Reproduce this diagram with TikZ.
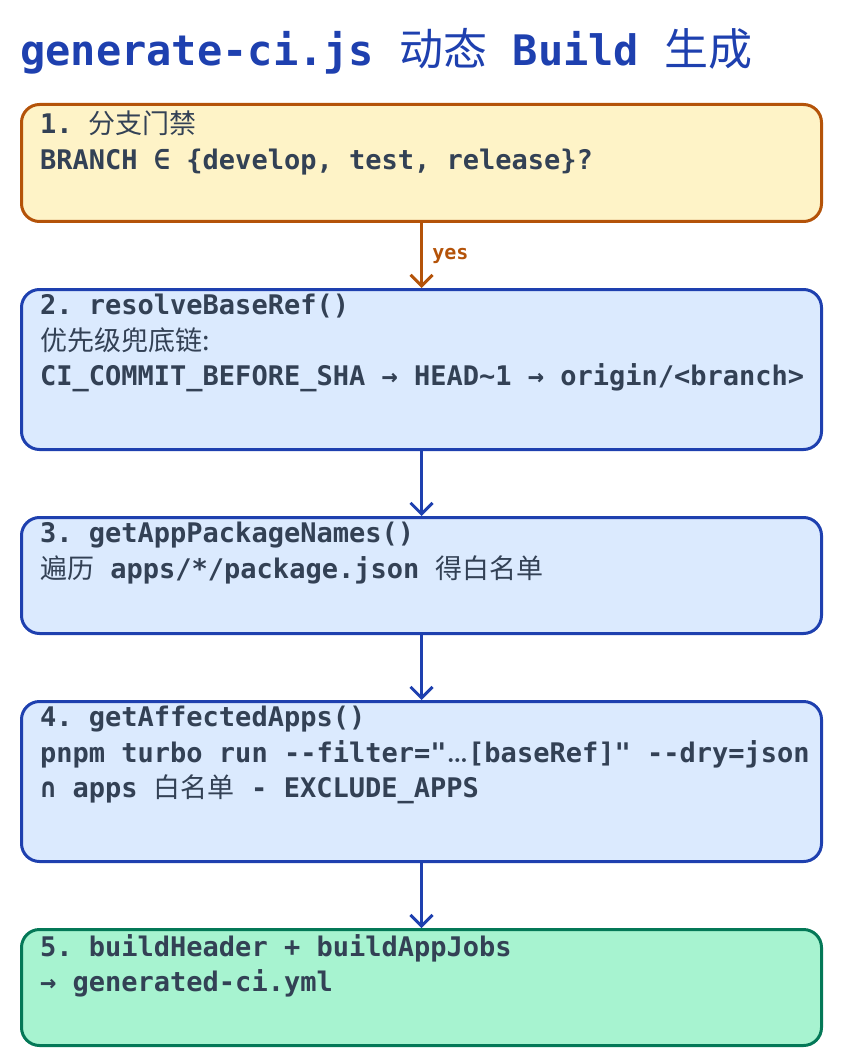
\documentclass[tikz,border=0pt]{standalone}
\usepackage{fontspec}
\setmonofont{DejaVu Sans Mono}
\newfontfamily\cjk{Noto Sans CJK SC}
\usetikzlibrary{arrows.meta,positioning}
\definecolor{titleblue}{HTML}{1E40AF}
\definecolor{textgray}{HTML}{334155}
\definecolor{gatefill}{HTML}{FEF3C7}
\definecolor{gateline}{HTML}{B45309}
\definecolor{stepfill}{HTML}{DBEAFE}
\definecolor{stepline}{HTML}{1E40AF}
\definecolor{donefill}{HTML}{A7F3D0}
\definecolor{doneline}{HTML}{047857}
\tikzset{
  box/.style={draw, line width=3pt, rounded corners=18pt, minimum width=800pt, anchor=north west, inner sep=0pt},
  gatebox/.style={box, fill=gatefill, draw=gateline},
  stepbox/.style={box, fill=stepfill, draw=stepline},
  donebox/.style={box, fill=donefill, draw=doneline},
  txt/.style={anchor=north west, inner sep=0pt, align=left, text=textgray, font=\ttfamily\bfseries\fontsize{27}{35.5}\selectfont},
  flow/.style={draw=stepline, line width=3pt, -{Straight Barb[length=11pt,width=22pt,line width=3pt]}}
}
\begin{document}
\begin{tikzpicture}[x=1pt,y=-1pt]
  \useasboundingbox (0,0) rectangle (840,1064);
  % title
  \node[anchor=base west, inner sep=0pt, text=titleblue, font=\ttfamily\bfseries\fontsize{42}{50}\selectfont] (title) at (20,66) {generate-ci.js {\cjk\mdseries\fontsize{44}{50}\selectfont 动态} Build {\cjk\mdseries\fontsize{44}{50}\selectfont 生成}};
  % boxes
  \node[gatebox, minimum height=117pt] (gate) at (20,103) {};
  \node[stepbox, minimum height=160pt] (base) at (20,288) {};
  \node[stepbox, minimum height=116pt] (names) at (20,516) {};
  \node[stepbox, minimum height=160pt] (affected) at (20,700) {};
  \node[donebox, minimum height=116pt] (jobs) at (20,928) {};
  % texts
  \node[txt] (gatetxt) at (40,111) {1. {\cjk\mdseries 分支门禁}\\BRANCH ∈ \{develop, test, release\}?};
  \node[txt] (basetxt) at (40,294) {2. resolveBaseRef()\\{\cjk\mdseries 优先级兜底链:}\\CI\_COMMIT\_BEFORE\_SHA → HEAD\textasciitilde1 → origin/<branch>};
  \node[txt] (namestxt) at (40,522) {3. getAppPackageNames()\\{\cjk\mdseries 遍历} apps/*/package.json {\cjk\mdseries 得白名单}};
  \node[txt] (affectedtxt) at (40,706) {4. getAffectedApps()\\pnpm turbo run -{}-filter="{\rmfamily\ldots}[baseRef]" -{}-dry=json\\∩ apps {\cjk\mdseries 白名单} - EXCLUDE\_APPS};
  \node[txt] (jobstxt) at (40,934) {5. buildHeader + buildAppJobs\\→ generated-ci.yml};
  % connectors
  \draw[flow, draw=gateline] (gate) -- node[right=6pt, text=gateline, font=\ttfamily\bfseries\fontsize{20}{24}\selectfont] {yes} (base);
  \draw[flow] (base) -- (names);
  \draw[flow] (names) -- (affected);
  \draw[flow] (affected) -- (jobs);
\end{tikzpicture}
\end{document}
